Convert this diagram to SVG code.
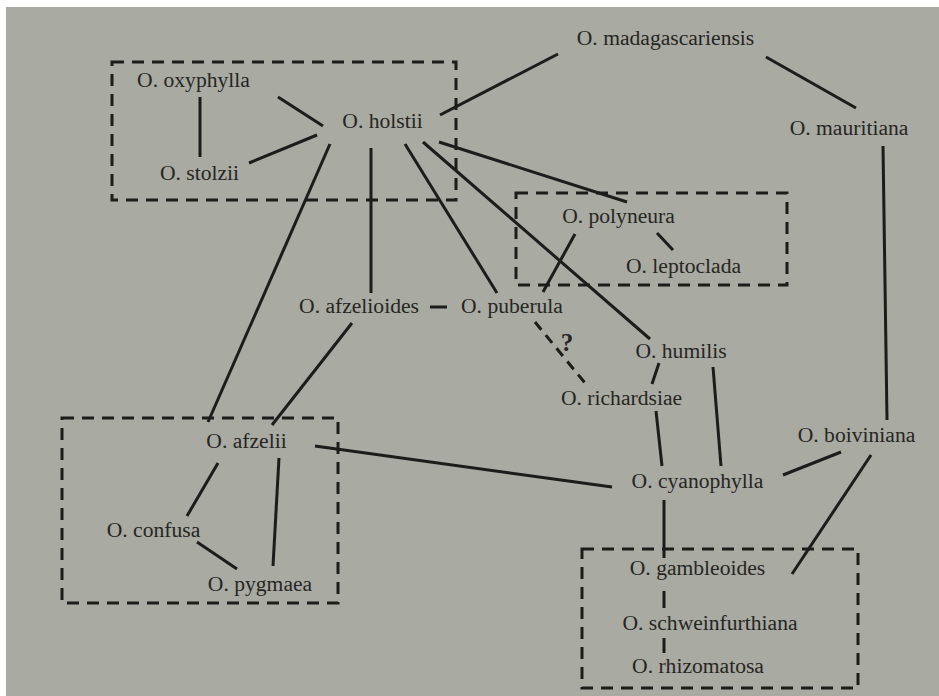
<svg xmlns="http://www.w3.org/2000/svg" width="939" height="696" viewBox="0 0 939 696">
<style>
.t{font-family:"Liberation Serif","Times New Roman",serif;font-size:21.6px;fill:#262624;text-anchor:middle}
.e{stroke:#1c1c1a;stroke-width:3;stroke-linecap:butt;fill:none}
.d{stroke-dasharray:10 7}
.g{fill:none;stroke:#1c1c1a;stroke-width:3;stroke-dasharray:12 8}
</style>
<rect x="0" y="0" width="939" height="696" fill="#ffffff"/>
<rect x="6" y="7" width="933" height="689" fill="#a9aaa1"/>
<g id="groups">
<rect id="box-holstii" class="g" x="112" y="62" width="344" height="138"/>
<rect id="box-polyneura" class="g" x="516" y="193" width="271" height="92"/>
<rect id="box-afzelii" class="g" x="62" y="418" width="276" height="185"/>
<rect id="box-gambleoides" class="g" x="582" y="549" width="276" height="139"/>
</g>
<g id="connectors">
<line class="e" x1="200" y1="97" x2="200" y2="157"/>
<line class="e" x1="278" y1="97" x2="323" y2="126"/>
<line class="e" x1="249" y1="163" x2="317" y2="135"/>
<line class="e" x1="330" y1="144" x2="208" y2="422"/>
<line class="e" x1="371" y1="148" x2="371" y2="293"/>
<line class="e" x1="405" y1="144" x2="497" y2="293"/>
<line class="e" x1="423" y1="142" x2="650" y2="339"/>
<line class="e" x1="439" y1="142" x2="627" y2="202"/>
<line class="e" x1="440" y1="115" x2="558" y2="54"/>
<line class="e" x1="766" y1="57" x2="856" y2="108"/>
<line class="e" x1="883" y1="146" x2="887" y2="420"/>
<line class="e" x1="657" y1="233" x2="673" y2="250"/>
<line class="e" x1="575" y1="234" x2="543" y2="292"/>
<line class="e" x1="430" y1="307" x2="447" y2="307"/>
<line class="e" x1="352" y1="323" x2="272" y2="425"/>
<line class="e d" x1="535" y1="322" x2="585" y2="383"/>
<line class="e" x1="659" y1="363" x2="652" y2="384"/>
<line class="e" x1="656" y1="411" x2="662" y2="466"/>
<line class="e" x1="713" y1="367" x2="721" y2="466"/>
<line class="e" x1="315" y1="446" x2="612" y2="487"/>
<line class="e" x1="841" y1="452" x2="783" y2="475"/>
<line class="e" x1="871" y1="455" x2="792" y2="574"/>
<line class="e" x1="218" y1="463" x2="187" y2="516"/>
<line class="e" x1="279" y1="458" x2="273" y2="566"/>
<line class="e" x1="197" y1="542" x2="237" y2="569"/>
<line class="e" x1="664" y1="500" x2="664" y2="558"/>
<line class="e" x1="664" y1="591" x2="664" y2="608"/>
<line class="e" x1="664" y1="638" x2="664" y2="653"/>
<text class="t" x="567" y="351" style="font-weight:bold;font-size:25px">?</text>
</g>
<g id="n-madagascariensis"><text class="t" x="665.5" y="45">O. madagascariensis</text></g>
<g id="n-mauritiana"><text class="t" x="849" y="135">O. mauritiana</text></g>
<g id="n-oxyphylla"><text class="t" x="193.5" y="87">O. oxyphylla</text></g>
<g id="n-holstii"><text class="t" x="382.5" y="128">O. holstii</text></g>
<g id="n-stolzii"><text class="t" x="199.5" y="180">O. stolzii</text></g>
<g id="n-polyneura"><text class="t" x="618.5" y="223">O. polyneura</text></g>
<g id="n-leptoclada"><text class="t" x="683.5" y="273">O. leptoclada</text></g>
<g id="n-afzelioides"><text class="t" x="359" y="313">O. afzelioides</text></g>
<g id="n-puberula"><text class="t" x="512" y="313">O. puberula</text></g>
<g id="n-humilis"><text class="t" x="681" y="358">O. humilis</text></g>
<g id="n-richardsiae"><text class="t" x="621.5" y="405">O. richardsiae</text></g>
<g id="n-afzelii"><text class="t" x="246.5" y="448">O. afzelii</text></g>
<g id="n-boiviniana"><text class="t" x="856.5" y="442">O. boiviniana</text></g>
<g id="n-cyanophylla"><text class="t" x="697.5" y="488">O. cyanophylla</text></g>
<g id="n-confusa"><text class="t" x="153.5" y="537">O. confusa</text></g>
<g id="n-pygmaea"><text class="t" x="260" y="591">O. pygmaea</text></g>
<g id="n-gambleoides"><text class="t" x="697.5" y="575">O. gambleoides</text></g>
<g id="n-schweinfurthiana"><text class="t" x="710" y="630">O. schweinfurthiana</text></g>
<g id="n-rhizomatosa"><text class="t" x="698" y="673">O. rhizomatosa</text></g>
</svg>
